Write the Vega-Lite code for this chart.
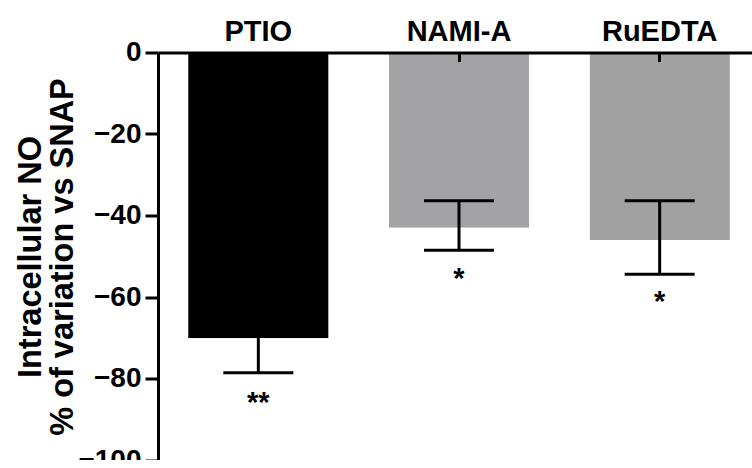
{
  "$schema": "https://vega.github.io/schema/vega-lite/v6.json",
  "width": 602,
  "height": 407.5,
  "autosize": "none",
  "padding": {"left": 158, "top": 52.5, "right": 0, "bottom": 0},
  "background": "white",
  "config": {"view": {"stroke": null}, "font": "Liberation Sans"},
  "data": {"values": [
    {"treatment": "PTIO", "mean": -70.1, "low": -78.6, "high": -61.6, "sig": "**", "sigPos": -85},
    {"treatment": "NAMI-A", "mean": -43, "low": -48.5, "high": -36.4, "sig": "*", "sigPos": -54.6},
    {"treatment": "RuEDTA", "mean": -46, "low": -54.4, "high": -36.4, "sig": "*", "sigPos": -60.2}
  ]},
  "encoding": {
    "x": {
      "field": "treatment", "type": "nominal", "sort": null,
      "scale": {"paddingInner": 0.3, "paddingOuter": 0.15},
      "axis": {
        "orient": "top", "title": null, "labelAngle": 0,
        "labelFontSize": 29, "labelFontWeight": "bold", "labelColor": "black",
        "labelBaseline": "alphabetic", "labelPadding": 21.5,
        "domainColor": "black", "domainWidth": 3,
        "tickColor": "black", "tickWidth": 3, "tickSize": -9,
        "zindex": 1
      }
    }
  },
  "layer": [
    {
      "mark": {"type": "bar", "cornerRadiusEnd": 3},
      "encoding": {
        "y": {
          "field": "mean", "type": "quantitative",
          "scale": {"domain": [-100, 0], "nice": false},
          "axis": {
            "values": [0, -20, -40, -60, -80, -100], "grid": false,
            "title": ["Intracellular NO", "% of variation vs SNAP"],
            "titleFontSize": 32.5, "titleFontWeight": "bold", "titleColor": "black",
            "titleLineHeight": 32, "titleBaseline": "alphabetic",
            "titleX": -118, "titleY": 204, "titleAlign": "center", "titleAngle": -90,
            "labelFontSize": 28, "labelFontWeight": "bold", "labelColor": "black",
            "labelPadding": 4,
            "tickSize": 13, "tickWidth": 3, "tickColor": "black",
            "domainColor": "black", "domainWidth": 3, "zindex": 1
          }
        },
        "color": {
          "field": "treatment", "type": "nominal",
          "scale": {"domain": ["PTIO", "NAMI-A", "RuEDTA"], "range": ["#000000", "#a3a3a6", "#a1a1a1"]},
          "legend": null
        }
      }
    },
    {
      "mark": {"type": "rule", "strokeWidth": 3, "color": "black"},
      "encoding": {
        "y": {"field": "low", "type": "quantitative"},
        "y2": {"field": "high"}
      }
    },
    {
      "mark": {"type": "tick", "thickness": 3, "size": 70, "color": "black", "opacity": 1},
      "encoding": {"y": {"field": "low", "type": "quantitative"}}
    },
    {
      "mark": {"type": "tick", "thickness": 3, "size": 70, "color": "black", "opacity": 1},
      "encoding": {"y": {"field": "high", "type": "quantitative"}}
    },
    {
      "mark": {"type": "text", "fontSize": 29, "fontWeight": "bold", "baseline": "alphabetic", "dy": 13, "color": "black"},
      "encoding": {
        "y": {"field": "sigPos", "type": "quantitative"},
        "text": {"field": "sig"}
      }
    }
  ]
}
